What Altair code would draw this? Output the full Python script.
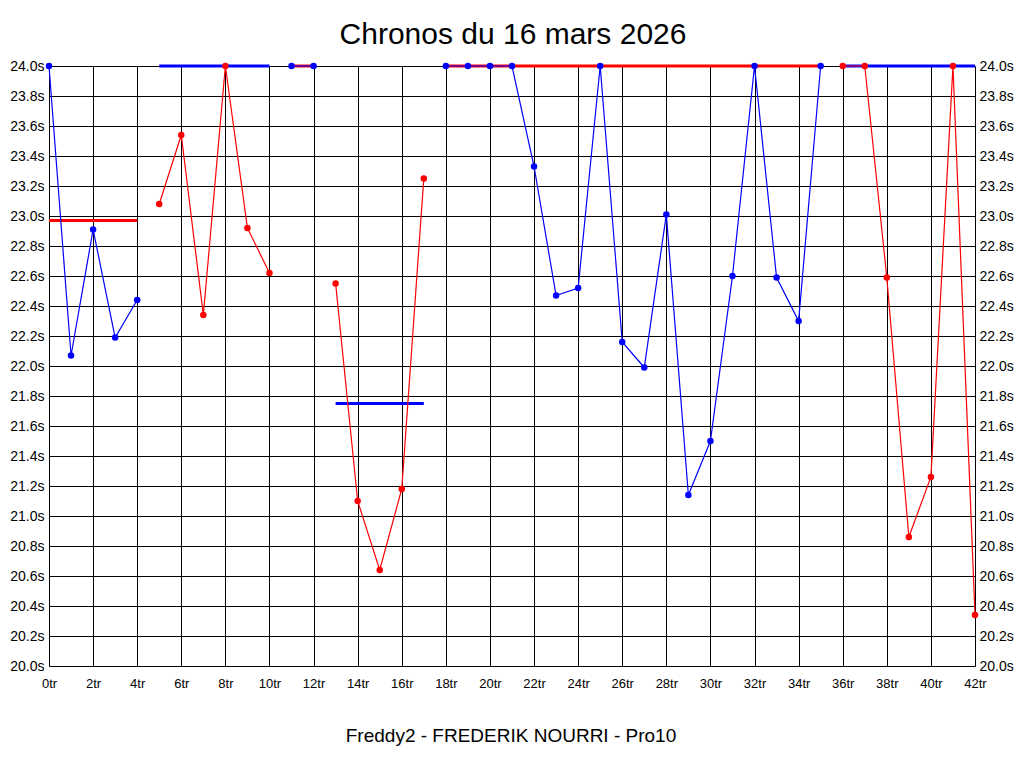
import altair as alt
import pandas as pd

# ---- data ----
titre = "Chronos du 16 mars 2026"
pilote = "Freddy2 - FREDERIK NOURRI - Pro10"

tours = list(range(43))
chronos = [24.00, 22.07, 22.91, 22.19, 22.44,
           23.08, 23.54, 22.34, 24.00, 22.92, 22.62,
           24.00, 24.00,
           22.55, 21.10, 20.64, 21.18, 23.25,
           24.00, 24.00, 24.00, 24.00, 23.33, 22.47, 22.52, 24.00, 22.16,
           21.99, 23.01, 21.14, 21.50, 22.60, 24.00, 22.59, 22.30, 24.00,
           24.00, 24.00, 22.59, 20.86, 21.26, 24.00, 20.34]

seg_debut = [0, 5, 11, 13, 18, 36]
seg_fin = [4, 10, 12, 17, 35, 42]
seg_couleur = ["bleu", "rouge", "bleu", "rouge", "bleu", "rouge"]
seg_ref = [22.97, 24.00, 24.00, 21.75, 24.00, 24.00]
seg_ref_couleur = ["rouge", "bleu", "rouge", "bleu", "rouge", "bleu"]

x_ticks = list(range(0, 43, 2))
y_ticks = [round(20 + 0.2 * i, 1) for i in range(21)]

# ---- tables ----
rows = []
for s, (a, b, c) in enumerate(zip(seg_debut, seg_fin, seg_couleur)):
    for t in range(a, b + 1):
        rows.append({"tour": tours[t], "temps": chronos[t], "seg": s, "coul": c})
pts = pd.DataFrame(rows)

refs = pd.DataFrame({"debut": seg_debut, "fin": seg_fin, "ref": seg_ref,
                     "coul": seg_ref_couleur})

col_scale = alt.Scale(domain=["bleu", "rouge"], range=["#0000ff", "#ff0000"])
xs = alt.Scale(domain=[0, 42], nice=False, zero=False)
ys = alt.Scale(domain=[20, 24], nice=False, zero=False)

FONT = "Liberation Sans"

x_axis = alt.Axis(values=x_ticks, grid=True, gridColor="black", gridOpacity=1,
                  gridWidth=1, domain=False, ticks=False, tickSize=0,
                  labelExpr="datum.value + 'tr'",
                  labelFont=FONT, labelFontSize=13, labelColor="black",
                  labelPadding=11, title=None, labelFlush=False)

y_left = alt.Axis(values=y_ticks, grid=True, gridColor="black", gridOpacity=1,
                  gridWidth=1, domain=False, ticks=False, tickSize=0,
                  labelExpr="format(datum.value, '.1f') + 's'",
                  labelFont=FONT, labelFontSize=14, labelColor="black",
                  labelPadding=5, title=None, orient="left")

y_right = alt.Axis(values=y_ticks, grid=False, domain=False, ticks=False,
                   tickSize=0, labelExpr="format(datum.value, '.1f') + 's'",
                   labelFont=FONT, labelFontSize=14, labelColor="black",
                   labelPadding=4, title=None, orient="right")

X = alt.X("tour:Q", scale=xs, axis=x_axis)

ref_lines = alt.Chart(refs).mark_rule(strokeWidth=3).encode(
    x=alt.X("debut:Q", scale=xs, axis=x_axis),
    x2="fin:Q",
    y=alt.Y("ref:Q", scale=ys, axis=y_left),
    color=alt.Color("coul:N", scale=col_scale, legend=None),
)

lines = alt.Chart(pts).mark_line(strokeWidth=1.2).encode(
    x=X,
    y=alt.Y("temps:Q", scale=ys, axis=y_right),
    detail="seg:N",
    color=alt.Color("coul:N", scale=col_scale, legend=None),
)

dots = alt.Chart(pts).mark_circle(size=42, opacity=1).encode(
    x=X,
    y=alt.Y("temps:Q", scale=ys, axis=None),
    color=alt.Color("coul:N", scale=col_scale, legend=None),
)

title_txt = alt.Chart(pd.DataFrame({"t": [titre]})).mark_text(
    font=FONT, fontSize=30, color="black", align="center", baseline="alphabetic"
).encode(text="t:N", x=alt.value(464), y=alt.value(-22))

sub_txt = alt.Chart(pd.DataFrame({"t": [pilote]})).mark_text(
    font=FONT, fontSize=19, color="black", align="center", baseline="alphabetic"
).encode(text="t:N", x=alt.value(462), y=alt.value(676))

chart = alt.layer(ref_lines, lines, dots, title_txt, sub_txt).resolve_axis(
    y="independent"
).properties(
    width=926, height=600,
    autosize=alt.AutoSizeParams(type="none"),
    padding={"left": 41, "top": 58, "right": 41, "bottom": 94},
    background="white",
).configure_view(stroke=None)

chart.save("out.html", embed_options={"renderer": "svg", "actions": False})
